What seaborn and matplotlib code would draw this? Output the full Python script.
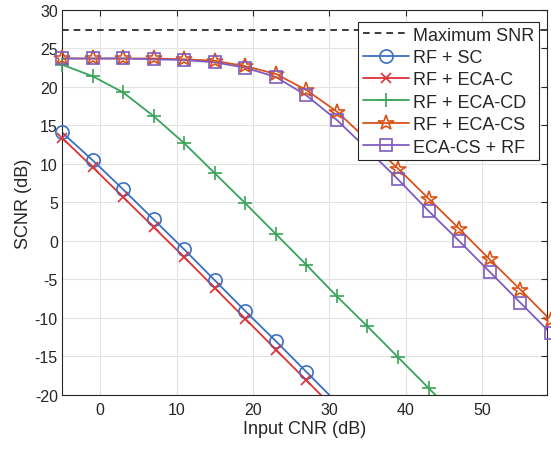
import numpy as np
import pandas as pd
import matplotlib
matplotlib.use("Agg")
import matplotlib.pyplot as plt
from matplotlib.lines import Line2D
import seaborn as sns

# input CNR grid (dB)
cnr = [-5, -1, 3, 7, 11, 15, 19, 23, 27, 31, 35, 39, 43, 47, 51, 55, 59]

max_snr = 27.4
rf_sc = [14.1, 10.5, 6.7, 2.8, -1.1, -5.1, -9.1, -13.0, -17.0, -21.0]
rf_eca_c = [13.4, 9.6, 5.7, 1.8, -2.1, -6.1, -10.1, -14.1, -18.1, -22.1]
rf_eca_cd = [22.9, 21.4, 19.3, 16.2, 12.7, 8.8, 4.9, 0.9, -3.1, -7.2, -11.1, -15.1, -19.1, -23.1]
rf_eca_cs = [23.7, 23.7, 23.7, 23.7, 23.6, 23.4, 22.7, 21.7, 19.6, 16.8, 13.1, 9.4, 5.5, 1.6, -2.4, -6.3, -10.3]
eca_cs_rf = [23.7, 23.7, 23.7, 23.6, 23.5, 23.2, 22.5, 21.3, 18.9, 15.7, 11.9, 8.0, 3.9, 0.0, -4.0, -8.0, -12.0]

series = [
    ("RF + SC", rf_sc, "#3a6fc4", "o", 9.5),
    ("RF + ECA-C", rf_eca_c, "#dc3238", "x", 7.5),
    ("RF + ECA-CD", rf_eca_cd, "#3aa35a", "+", 10),
    ("RF + ECA-CS", rf_eca_cs, "#d95319", "*", 11.5),
    ("ECA-CS + RF", eca_cs_rf, "#7e5cc0", "s", 8.5),
]

sns.set_theme(style="whitegrid")
plt.rcParams["font.family"] = ["Liberation Sans", "DejaVu Sans"]
plt.rcParams["axes.unicode_minus"] = False

fig, ax = plt.subplots(figsize=(5.51, 4.52), dpi=100)
fig.subplots_adjust(left=0.1125, right=0.9927, top=0.9757, bottom=0.1239)

ylo, yhi = -20, 30
ax.axhline(max_snr, color="#1a1a1a", linestyle="--", dashes=(4, 3), lw=1.2)
handles = [Line2D([], [], color="#1a1a1a", linestyle="--", dashes=(4, 3), lw=1.2)]
labels = ["Maximum SNR"]

for name, vals, col, mk, ms in series:
    df = pd.DataFrame({"x": cnr[:len(vals)], "y": vals})
    # line is clipped to the axes, markers are not (MATLAB-like)
    sns.lineplot(data=df, x="x", y="y", ax=ax, color=col, lw=1.3, legend=False)
    vis = df[(df.y >= ylo) & (df.y <= yhi)]
    ax.plot(vis.x, vis.y, ls="none", marker=mk, markersize=ms, fillstyle="none",
            markeredgecolor=col, markeredgewidth=1.2, clip_on=False, zorder=3)
    handles.append(Line2D([], [], color=col, lw=1.3, marker=mk, markersize=ms,
                          fillstyle="none", markeredgewidth=1.2))
    labels.append(name)

ax.set_xlim(-5, 58.5)
ax.set_ylim(ylo, yhi)
ax.set_xticks([0, 10, 20, 30, 40, 50])
ax.set_yticks(np.arange(-20, 31, 5))
ax.set_xlabel("Input CNR (dB)", fontsize=13, color="#262626", labelpad=2)
ax.set_ylabel("SCNR (dB)", fontsize=13, color="#262626", labelpad=2)
ax.tick_params(direction="in", length=4, top=True, right=True, labelsize=11.5,
               colors="#262626", pad=5, width=0.8)
ax.tick_params(axis="y", pad=3)
ax.grid(True, color="#e3e3e3", lw=0.8)
for sp in ax.spines.values():
    sp.set_color("#262626")
    sp.set_linewidth(0.8)

leg = ax.legend(handles, labels, loc="upper right",
                bbox_to_anchor=(539 / 551, 1 - 23 / 452),
                bbox_transform=fig.transFigure, borderaxespad=0, fontsize=13,
                fancybox=False, framealpha=1, edgecolor="#262626",
                handlelength=2.55, handletextpad=0.25, labelspacing=0.3,
                borderpad=0.25)
leg.get_frame().set_linewidth(0.8)
leg.set_zorder(5)

plt.savefig("out.png", dpi=100)
